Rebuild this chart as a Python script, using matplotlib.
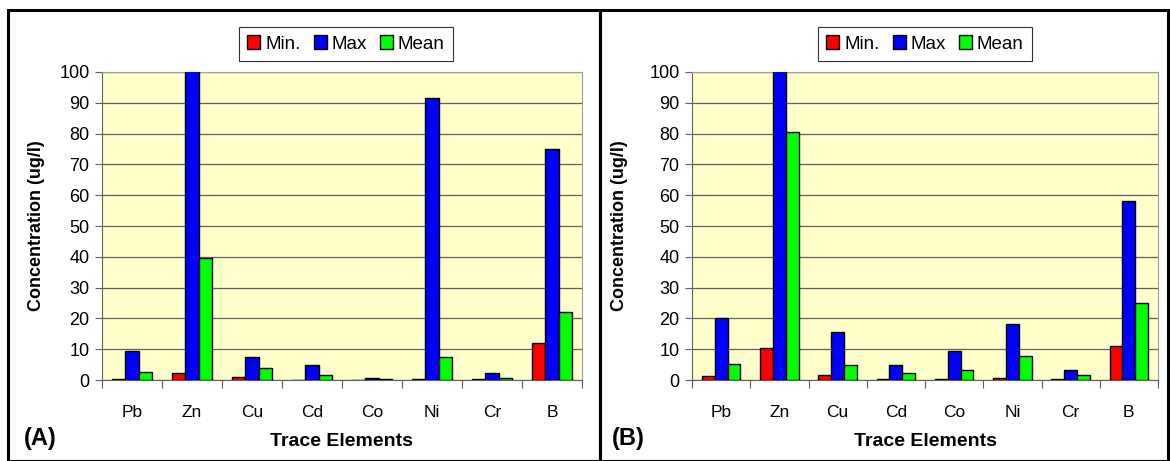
import numpy as np
import matplotlib
matplotlib.use("Agg")
import matplotlib.pyplot as plt
from matplotlib.patches import Rectangle

plt.rcParams['font.family'] = ['Liberation Sans', 'DejaVu Sans']

elements = ['Pb', 'Zn', 'Cu', 'Cd', 'Co', 'Ni', 'Cr', 'B']
series_names = ['Min.', 'Max', 'Mean']
colors = ['#ff0000', '#0000ff', '#00ff00']

# panel A
a_min = [0.2, 2.3, 1.0, 0.1, 0.1, 0.2, 0.3, 12.0]
a_max = [9.5, 120.0, 7.5, 5.0, 0.8, 91.5, 2.3, 75.0]
a_mean = [2.5, 39.5, 3.8, 1.7, 0.2, 7.5, 0.8, 22.2]

# panel B
b_min = [1.2, 10.3, 1.6, 0.3, 0.3, 0.6, 0.3, 11.0]
b_max = [20.0, 120.0, 15.6, 5.0, 9.5, 18.3, 3.2, 58.0]
b_mean = [5.3, 80.5, 5.0, 2.2, 3.2, 7.8, 1.6, 25.0]

fig = plt.figure(figsize=(11.7, 4.61), dpi=100)

# panel frames
fig.patches.append(Rectangle((8/1170, 0), 592/1170, 1 - 10/461, transform=fig.transFigure,
                             fill=False, lw=2.2, ec='black'))
fig.patches.append(Rectangle((600/1170, 0), 568/1170, 1 - 10/461, transform=fig.transFigure,
                             fill=False, lw=2.2, ec='black'))


def panel(rect, data, letter, leg_x, letter_x, ylab_x):
    ax = fig.add_axes(rect)
    ax.set_facecolor('#ffffcc')
    x = np.arange(len(elements))
    w = 0.22
    bars = []
    for i, (vals, c, name) in enumerate(zip(data, colors, series_names)):
        b = ax.bar(x + (i - 1) * w, vals, w, color=c, edgecolor='black', lw=1.0,
                   label=name, zorder=3)
        bars.append(b)
    ax.set_xlim(-0.5, len(elements) - 0.5)
    ax.set_ylim(0, 100)
    ax.set_yticks(np.arange(0, 101, 10))
    ax.yaxis.grid(True, color='#606060', lw=0.9, zorder=0)
    ax.set_axisbelow(True)
    ax.set_xticks(np.arange(-0.5, len(elements), 1.0))
    ax.set_xticklabels([])
    ax.set_xticks(x, minor=True)
    ax.set_xticklabels(elements, minor=True, fontsize=12.5)
    ax.tick_params(axis='x', which='minor', length=0, pad=18)
    ax.tick_params(axis='x', which='major', length=6, color='#606060', direction='out')
    ax.tick_params(axis='y', length=5, color='#606060', labelsize=13, pad=4)
    for s in ['top', 'right']:
        ax.spines[s].set_color('#a0a0a0')
    for s in ['left', 'bottom']:
        ax.spines[s].set_color('#606060')
    ax.set_ylabel('Concentration (ug/l)', fontsize=13, fontweight='bold')
    ax.yaxis.set_label_coords(ylab_x, 0.5)
    ax.set_xlabel('Trace Elements', fontsize=14, fontweight='bold', labelpad=9)
    leg = fig.legend(handles=[b.patches[0] for b in bars], labels=series_names,
                     loc='center', bbox_to_anchor=(leg_x, 1 - 44/461), ncol=3,
                     fontsize=13.5, frameon=True, fancybox=False, edgecolor='black',
                     handlelength=0.7, handleheight=0.7, handletextpad=0.25,
                     columnspacing=0.7, borderpad=0.45, borderaxespad=0.0)
    leg.get_frame().set_linewidth(0.8)
    fig.text(letter_x, 1 - 438/461, letter, fontsize=17, fontweight='bold',
             va='center', ha='left')
    return ax


panel([102/1170, 1 - 380/461, 480/1170, 308/461], [a_min, a_max, a_mean],
      '(A)', 346/1170, 24/1170, -0.118)
panel([692/1170, 1 - 380/461, 466/1170, 308/461], [b_min, b_max, b_mean],
      '(B)', 925/1170, 612/1170, -0.137)

fig.savefig('out.png', dpi=100)
